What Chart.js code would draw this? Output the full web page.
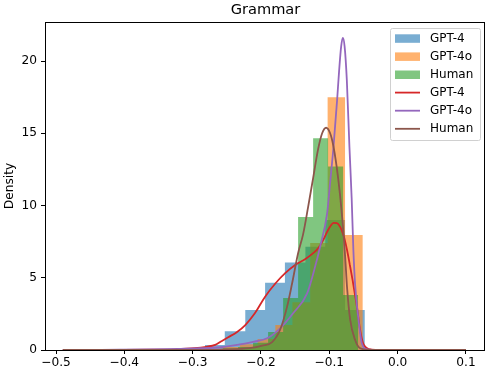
<!DOCTYPE html>
<html>
<head>
<meta charset="utf-8">
<script src="https://cdn.jsdelivr.net/npm/chart.js@4"></script>
<style>
  html, body { margin: 0; padding: 0; background: #fff; }
  #wrap { width: 486px; height: 372px; }
</style>
</head>
<body>
<div id="wrap"><canvas id="grafico"></canvas></div>
<script>
// histogram bins (edges) and density heights
var gpt4Edges = [-0.282, -0.253, -0.223, -0.194, -0.165, -0.135, -0.106, -0.077, -0.048];
var gpt4Hist = [0.35, 1.3, 2.77, 4.66, 6.05, 7.15, 9.0, 2.77];
var gpt4oEdges = [-0.256, -0.231, -0.205, -0.179, -0.154, -0.128, -0.1025, -0.077, -0.051];
var gpt4oHist = [0.2, 0.4, 0.76, 1.73, 3.3, 7.4, 17.5, 7.96];
var humanEdges = [-0.2555, -0.2335, -0.2116, -0.1896, -0.1676, -0.1457, -0.1237, -0.1018, -0.0798, -0.0578];
var humanHist = [0.1, 0.2, 0.5, 1.25, 3.6, 9.2, 14.65, 12.7, 3.8];

// kde curves
var gpt4KdeX = [-0.49, -0.42, -0.36, -0.325, -0.297, -0.28, -0.267, -0.258, -0.248, -0.235, -0.223, -0.209, -0.194, -0.179, -0.165, -0.15, -0.135, -0.125, -0.116, -0.109, -0.103, -0.098, -0.094, -0.089, -0.084, -0.079, -0.074, -0.07, -0.066, -0.062, -0.059, -0.055, -0.0505, -0.0447, -0.038, -0.025, 0.0, 0.05, 0.1];
var gpt4KdeY = [0, 0.01, 0.02, 0.05, 0.12, 0.22, 0.35, 0.6, 0.88, 1.25, 1.73, 2.54, 3.69, 4.6, 5.3, 5.88, 6.3, 6.65, 7.05, 7.6, 8.2, 8.6, 8.8, 8.78, 8.5, 7.9, 6.9, 5.9, 4.85, 3.7, 2.8, 1.4, 0.46, 0.12, 0.03, 0.0, 0, 0, 0];
var gpt4oKdeX = [-0.49, -0.45, -0.406, -0.36, -0.318, -0.29, -0.26, -0.2306, -0.2116, -0.191, -0.172, -0.153, -0.1325, -0.1208, -0.1135, -0.1032, -0.0988, -0.094, -0.0886, -0.0857, -0.0827, -0.0802, -0.0776, -0.0744, -0.0706, -0.0673, -0.0647, -0.0622, -0.0578, -0.0524, -0.045, -0.035, -0.02, 0.0, 0.05, 0.1];
var gpt4oKdeY = [0, 0.01, 0.02, 0.04, 0.08, 0.12, 0.19, 0.39, 0.57, 0.81, 1.5, 2.54, 3.92, 5.77, 7.15, 9.46, 11.6, 14.0, 17.3, 19.3, 21.0, 21.6, 21.0, 18.7, 14.1, 10.5, 6.8, 4.5, 2.3, 0.46, 0.05, 0.01, 0, 0, 0, 0];
var humanKdeX = [-0.49, -0.4, -0.33, -0.289, -0.26, -0.2306, -0.2086, -0.1984, -0.1837, -0.172, -0.1618, -0.1545, -0.1457, -0.1384, -0.131, -0.1237, -0.1164, -0.1105, -0.1047, -0.0988, -0.094, -0.0871, -0.0817, -0.0769, -0.074, -0.0695, -0.0622, -0.0549, -0.0403, -0.02, 0.0, 0.05, 0.1];
var humanKdeY = [0, 0, 0, 0.01, 0.03, 0.08, 0.18, 0.3, 0.55, 1.4, 3.0, 4.6, 6.7, 8.0, 9.9, 11.9, 13.9, 15.0, 15.38, 15.0, 14.1, 11.9, 9.46, 6.5, 4.3, 2.1, 0.69, 0.12, 0.01, 0, 0, 0, 0];

var xTicks = [-0.5, -0.4, -0.3, -0.2, -0.1, 0.0, 0.1];
var yTicks = [0, 5, 10, 15, 20];
var labels = ["GPT-4", "GPT-4o", "Human"];

function degraus(edges, h) {
  var pts = h.map(function (v, i) { return {x: edges[i], y: v}; });
  pts.push({x: edges[edges.length - 1], y: 0});
  return pts;
}
function curva(xs, ys) {
  return xs.map(function (v, i) { return {x: v, y: ys[i]}; });
}

var fonte = "'DejaVu Sans', sans-serif";

var moldura = {
  id: 'moldura',
  afterDraw: function (chart) {
    var ctx = chart.ctx, a = chart.chartArea;
    ctx.save();
    ctx.strokeStyle = '#000';
    ctx.lineWidth = 1;
    ctx.strokeRect(a.left + 0.5, a.top + 0.5, a.right - a.left - 2, a.bottom - a.top);
    // title
    ctx.fillStyle = '#000';
    ctx.font = "14.6px " + fonte;
    ctx.textAlign = 'center';
    ctx.textBaseline = 'middle';
    ctx.fillText('Grammar', (a.left + a.right) / 2, 10);
    // legend
    var lx = 390, ly = 28, lw = 90, lh = 112;
    ctx.fillStyle = 'rgba(255,255,255,0.8)';
    ctx.strokeStyle = '#d0d0d0';
    ctx.lineWidth = 1;
    ctx.beginPath();
    ctx.roundRect(lx + 0.5, ly + 0.5, lw, lh, 2);
    ctx.fill();
    ctx.stroke();
    ctx.font = "12px " + fonte;
    ctx.textAlign = 'left';
    chart.data.datasets.forEach(function (ds, i) {
      var cy = 38.3 + i * 18.1;
      if (ds.fill) {
        ctx.fillStyle = ds.backgroundColor;
        ctx.fillRect(395, cy - 4, 25, 8.5);
      } else {
        ctx.strokeStyle = ds.borderColor;
        ctx.lineWidth = 1.8;
        ctx.beginPath();
        ctx.moveTo(395, cy);
        ctx.lineTo(420, cy);
        ctx.stroke();
      }
      ctx.fillStyle = '#000';
      ctx.fillText(ds.label, 430, cy + 0.5);
    });
    ctx.restore();
  }
};

function hist(label, edges, h, cor, ordem) {
  return {
    label: label, data: degraus(edges, h), stepped: true, fill: 'origin',
    backgroundColor: cor, borderWidth: 0, pointRadius: 0, order: ordem
  };
}
function kde(label, xs, ys, cor, ordem) {
  return {
    label: label, data: curva(xs, ys), fill: false, borderColor: cor,
    borderWidth: 1.8, pointRadius: 0, cubicInterpolationMode: 'monotone', order: ordem
  };
}

var ctx = document.getElementById('grafico').getContext('2d');
var chart = new Chart(ctx, {
  type: 'line',
  data: {
    datasets: [
      hist(labels[0], gpt4Edges, gpt4Hist, 'rgba(31,119,180,0.6)', 6),
      hist(labels[1], gpt4oEdges, gpt4oHist, 'rgba(255,127,14,0.6)', 5),
      hist(labels[2], humanEdges, humanHist, 'rgba(44,160,44,0.6)', 4),
      kde(labels[0], gpt4KdeX, gpt4KdeY, '#d62728', 3),
      kde(labels[1], gpt4oKdeX, gpt4oKdeY, '#9467bd', 2),
      kde(labels[2], humanKdeX, humanKdeY, '#8c564b', 1)
    ]
  },
  options: {
    responsive: true,
    maintainAspectRatio: false,
    animation: false,
    layout: { padding: { top: 22, right: 0, left: 0, bottom: 0 } },
    plugins: { legend: { display: false }, tooltip: { enabled: false }, title: { display: false } },
    scales: {
      x: {
        type: 'linear', min: -0.5161, max: 0.1293,
        afterBuildTicks: function (s) { s.ticks = xTicks.map(function (v) { return {value: v}; }); },
        afterFit: function (s) { s.height = 22; },
        grid: { drawOnChartArea: false, tickLength: 4, color: '#000' },
        border: { display: false },
        ticks: {
          padding: 2, color: '#000', font: { family: fonte, size: 12.2 }, maxRotation: 0,
          callback: function (v) { return v.toFixed(1).replace('-', '\u2212'); }
        }
      },
      y: {
        min: 0, max: 22.7,
        afterBuildTicks: function (s) { s.ticks = yTicks.map(function (v) { return {value: v}; }); },
        afterFit: function (s) { s.width = 45; },
        grid: { drawOnChartArea: false, tickLength: 4, color: '#000' },
        border: { display: false },
        title: { display: true, text: 'Density', color: '#000', font: { family: fonte, size: 12.2 }, padding: { top: 3, bottom: 0 } },
        ticks: { padding: 4, color: '#000', font: { family: fonte, size: 12.2 } }
      }
    }
  },
  plugins: [moldura]
});
</script>
</body>
</html>
